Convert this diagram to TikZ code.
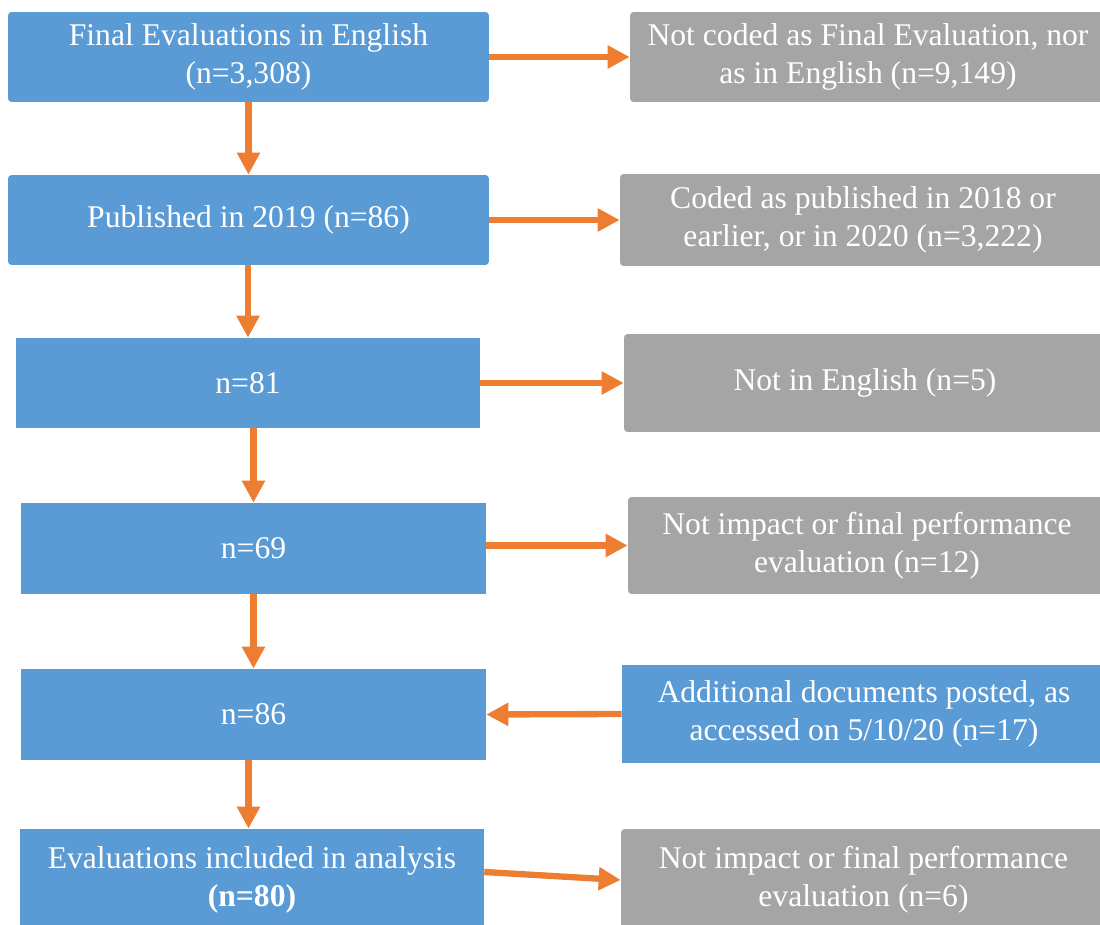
\documentclass[tikz,border=0pt]{standalone}
\usepackage{fontspec}
\setmainfont{Liberation Serif}
\newfontfamily\flowfont{Liberation Serif}
\usepackage{tikz}
\usetikzlibrary{arrows.meta, positioning}
\usepackage{xcolor}

\definecolor{keptblue}{HTML}{5B9BD5}
\definecolor{dropgray}{HTML}{A5A5A5}
\definecolor{flowor}{HTML}{ED7D31}

\begin{document}
\begin{tikzpicture}[
    x=0.02cm, y=-0.02cm,
    every node/.style={align=center, inner sep=0pt, text=white,
        font=\flowfont\fontsize{18}{21.6}\selectfont},
    keptbox/.style={fill=keptblue, minimum height=1.82cm},
    dropbox/.style={fill=dropgray, rounded corners=2pt, minimum height=1.84cm},
    >={Triangle[length=0.44cm, width=0.44cm]},
    flow/.style={->, draw=flowor, line width=3.6pt}
]
\useasboundingbox (0,0) rectangle (1100,925);

% kept records, left column
\node (final) [keptbox, rounded corners=2pt, minimum width=9.62cm, minimum height=1.8cm] at (248.5,57) {Final Evaluations in English\\(n=3,308)};
\node (pub) [keptbox, rounded corners=2pt, minimum width=9.62cm, minimum height=1.8cm] at (248.5,220) {Published in 2019 (n=86)};
\node (n81) [keptbox, minimum width=9.28cm, minimum height=1.8cm] at (248,383) {n=81};
\node (n69) [keptbox, minimum width=9.3cm] at (253.5,548.5) {n=69};
\node (n86) [keptbox, minimum width=9.3cm] at (253.5,714.5) {n=86};
\node (incl) [keptbox, minimum width=9.28cm, minimum height=2.04cm] at (252,880) {Evaluations included in analysis\\\textbf{(n=80)}};

% excluded / added records, right column
\node (notcoded) [dropbox, minimum width=9.52cm, minimum height=1.8cm] at (868,57) {Not coded as Final Evaluation, nor\\as in English (n=9,149)};
\node (otheryear) [dropbox, minimum width=9.72cm] at (863,220) {Coded as published in 2018 or\\earlier, or in 2020 (n=3,222)};
\node (noteng) [dropbox, minimum width=9.64cm, minimum height=1.96cm] at (865,383) {Not in English (n=5)};
\node (notimp) [dropbox, minimum width=9.56cm, minimum height=1.94cm] at (867,545.5) {Not impact or final performance\\evaluation (n=12)};
\node (added) [keptbox, minimum width=9.68cm, minimum height=1.96cm] at (864,714) {Additional documents posted, as\\accessed on 5/10/20 (n=17)};
\node (notimpb) [dropbox, minimum width=9.7cm, minimum height=2.04cm] at (863.5,880) {Not impact or final performance\\evaluation (n=6)};

% main flow
\draw[flow] (final) -- (pub);
\draw[flow] (pub.south -| n81.north) -- (n81);
\draw[flow] (n81.south -| n69.north) -- (n69);
\draw[flow] (n69) -- (n86);
\draw[flow] ([xshift=-0.1cm]n86.south) -- ([xshift=-0.1cm]n86.south |- incl.north);

% side branches
\draw[flow] (final.east) -- (notcoded.west);
\draw[flow] (pub.east) -- (otheryear.west);
\draw[flow] (n81.east) -- (noteng.west);
\draw[flow] (n69.east |- notimp.west) -- (notimp.west);
\draw[flow] (added.west) -- (n86.east);
\draw[flow] ([yshift=0.16cm]incl.east) -- (notimpb.west);

\end{tikzpicture}
\end{document}
